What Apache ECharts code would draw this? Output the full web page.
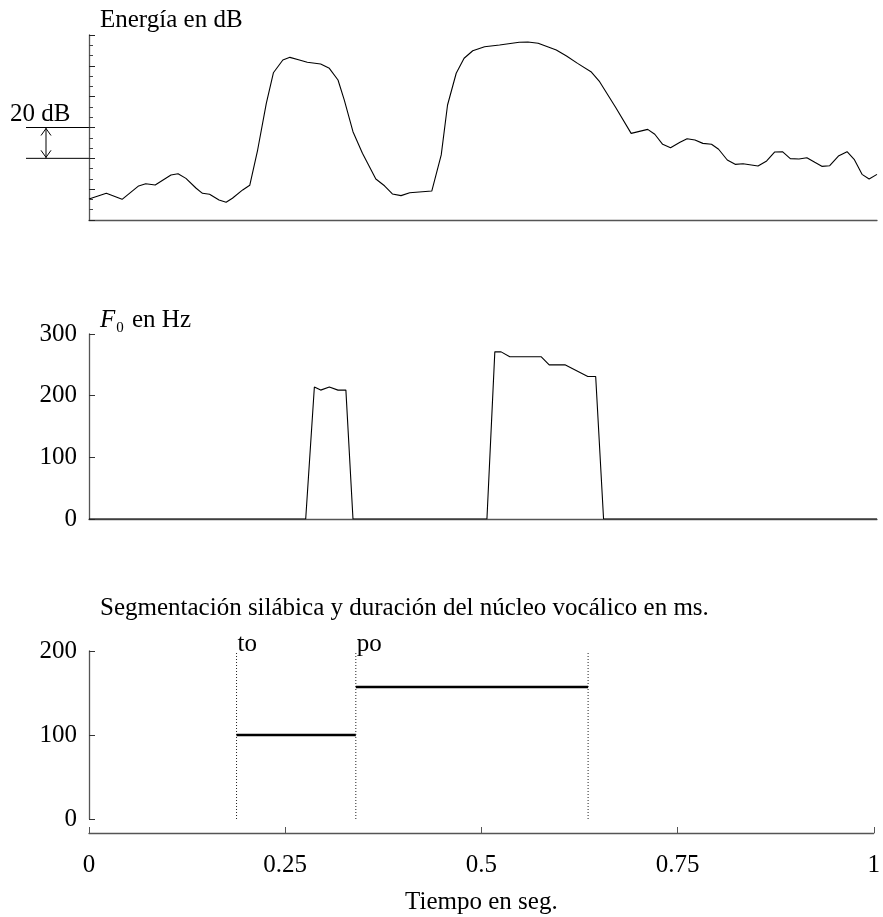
<!DOCTYPE html>
<html>
<head>
<meta charset="utf-8">
<script src="https://cdn.jsdelivr.net/npm/echarts@6/dist/echarts.min.js"></script>
<style>
  html, body { margin: 0; padding: 0; background: #fff; }
  .chart { width: 883px; height: 917px; }
</style>
</head>
<body>
<div class="chart"></div>
<script>
// datos
var energyT = [0, 0.022, 0.042, 0.063, 0.072, 0.084, 0.104, 0.113, 0.123, 0.136, 0.144, 0.153, 0.165, 0.174, 0.182,
  0.195, 0.204, 0.214, 0.225, 0.234, 0.246, 0.255, 0.267, 0.277, 0.294, 0.305, 0.316, 0.324, 0.335, 0.347, 0.364,
  0.375, 0.385, 0.396, 0.407, 0.435, 0.447, 0.455, 0.466, 0.476, 0.487, 0.502, 0.521, 0.546, 0.557, 0.570, 0.593,
  0.606, 0.620, 0.637, 0.648, 0.669, 0.688, 0.709, 0.718, 0.728, 0.738, 0.750, 0.759, 0.769, 0.779, 0.790, 0.799,
  0.810, 0.820, 0.830, 0.849, 0.860, 0.870, 0.880, 0.890, 0.901, 0.911, 0.921, 0.930, 0.940, 0.951, 0.962, 0.971,
  0.981, 0.990, 1.0];
var energyDb = [13.6, 17.3, 13.4, 22.1, 23.5, 22.7, 29.2, 30.0, 27.0, 20.6, 17.3, 16.7, 13.0, 11.5, 14.1,
  19.5, 22.5, 45.4, 75.7, 95.5, 103.8, 105.5, 103.8, 102.3, 101.2, 98.4, 90.8, 77.8, 57.3, 43.3, 26.6,
  22.2, 16.9, 15.8, 17.7, 18.8, 42.2, 74.6, 95.2, 104.9, 109.8, 112.4, 113.5, 115.3, 115.5, 114.6, 110.3,
  106.4, 101.6, 96.2, 89.7, 72.5, 56.2, 58.8, 55.6, 49.1, 46.9, 50.4, 52.7, 51.9, 49.7, 49.1, 45.9,
  38.9, 36.1, 36.5, 35.0, 38.3, 44.1, 44.3, 39.8, 39.6, 40.4, 37.4, 34.8, 35.2, 41.5, 44.3, 39.4,
  29.6, 26.6, 29.6];

var f0T = [0, 0.275, 0.286, 0.294, 0.305, 0.316, 0.326, 0.335, 0.505, 0.515, 0.523, 0.534, 0.574, 0.584,
  0.604, 0.633, 0.643, 0.653, 1];
var f0Hz = [0, 0, 214, 209, 214, 209, 209, 0, 0, 271, 271, 263, 263, 250, 250, 231, 231, 0, 0];

var syllables = ['to', 'po'];
var boundaries = [0.188, 0.34, 0.636];   // limites silabicos en seg.
var durations = [100, 157];              // nucleo vocalico en ms

var FONT = 'Liberation Serif';
var AXIS = '#555';

var myChart = echarts.init(document.querySelector('.chart'));

function zip(a, b) {
  var out = [];
  for (var i = 0; i < a.length; i++) out.push([a[i], b[i]]);
  return out;
}

var baseX = {
  type: 'value', min: 0, max: 1,
  axisLine: { onZero: false, lineStyle: { color: AXIS, width: 1.3 } },
  axisTick: { show: false }, axisLabel: { show: false }, splitLine: { show: false }
};

var series = [
  {
    type: 'line', xAxisIndex: 0, yAxisIndex: 0, data: zip(energyT, energyDb),
    showSymbol: false, lineStyle: { color: '#000', width: 1.1 }, silent: true, animation: false
  },
  {
    type: 'line', xAxisIndex: 1, yAxisIndex: 1, data: zip(f0T, f0Hz),
    showSymbol: false, lineStyle: { color: '#000', width: 1.1 }, silent: true, animation: false
  }
];

// lineas punteadas de segmentacion
boundaries.forEach(function (b) {
  series.push({
    type: 'line', xAxisIndex: 2, yAxisIndex: 2, data: [[b, 0], [b, 200]],
    showSymbol: false, lineStyle: { color: '#222', width: 1, type: [1, 2] }, silent: true, animation: false
  });
});

// duracion del nucleo vocalico
syllables.forEach(function (s, i) {
  series.push({
    type: 'line', xAxisIndex: 2, yAxisIndex: 2,
    data: [[boundaries[i], durations[i]], [boundaries[i + 1], durations[i]]],
    showSymbol: false, lineStyle: { color: '#000', width: 2.5 }, silent: true, animation: false
  });
});

// etiquetas de silaba
series.push({
  type: 'scatter', xAxisIndex: 2, yAxisIndex: 2, symbolSize: 0,
  itemStyle: { opacity: 1, color: '#000' },
  data: syllables.map(function (s, i) { return { value: [boundaries[i], 200], name: s }; }),
  label: {
    show: true, formatter: '{b}', position: [1, -7], align: 'left', verticalAlign: 'middle',
    fontFamily: FONT, fontSize: 25, color: '#000', opacity: 1
  },
  silent: true, animation: false
});

var option = {
  animation: false,
  grid: [
    { left: 89, right: 6, top: 35, bottom: 697 },
    { left: 89, right: 6, top: 334, bottom: 398 },
    { left: 89, right: 6, top: 651, bottom: 98 }
  ],
  xAxis: [
    Object.assign({}, baseX, { gridIndex: 0 }),
    Object.assign({}, baseX, { gridIndex: 1 }),
    {
      gridIndex: 2, type: 'value', min: 0, max: 1, interval: 0.25, offset: 14,
      axisLine: { onZero: false, lineStyle: { color: AXIS, width: 1.3 } },
      axisTick: { inside: true, length: 6, lineStyle: { color: AXIS } },
      axisLabel: { fontFamily: FONT, fontSize: 25, color: '#000', margin: 20 },
      splitLine: { show: false },
      name: 'Tiempo en seg.', nameLocation: 'middle', nameGap: 57,
      nameTextStyle: { fontFamily: FONT, fontSize: 25, color: '#000' }
    }
  ],
  yAxis: [
    {
      gridIndex: 0, type: 'value', min: 0, max: 120, interval: 20,
      axisLine: { show: true, lineStyle: { color: AXIS, width: 1.3 } },
      axisTick: { inside: true, length: 6, lineStyle: { color: '#222' } },
      minorTick: { show: true, splitNumber: 3, length: 4, lineStyle: { color: '#444' } },
      axisLabel: { show: false }, splitLine: { show: false }, minorSplitLine: { show: false }
    },
    {
      gridIndex: 1, type: 'value', min: 0, max: 300, interval: 100,
      axisLine: { show: true, lineStyle: { color: AXIS, width: 1.3 } },
      axisTick: { inside: true, length: 6, lineStyle: { color: '#333' } },
      axisLabel: { fontFamily: FONT, fontSize: 25, color: '#000', margin: 12 },
      splitLine: { show: false }
    },
    {
      gridIndex: 2, type: 'value', min: 0, max: 200, interval: 100,
      axisLine: { show: true, lineStyle: { color: AXIS, width: 1.3 } },
      axisTick: { inside: true, length: 6, lineStyle: { color: '#333' } },
      axisLabel: { fontFamily: FONT, fontSize: 25, color: '#000', margin: 12 },
      splitLine: { show: false }
    }
  ],
  series: series
};

myChart.setOption(option);

// titulos y marca de 20 dB
var y60 = myChart.convertToPixel({ xAxisIndex: 0, yAxisIndex: 0 }, [0, 60])[1];
var y40 = myChart.convertToPixel({ xAxisIndex: 0, yAxisIndex: 0 }, [0, 40])[1];
var ax = 46;

function txt(text, x, y, extra) {
  var style = Object.assign({
    text: text, x: x, y: y, font: '25px "' + FONT + '"', fill: '#000',
    verticalAlign: 'middle', align: 'left'
  }, extra || {});
  return { type: 'text', silent: true, style: style };
}

myChart.setOption({
  graphic: [
    txt('Energía en dB', 100, 20),
    txt('{i|F}{s|0} en Hz', 100, 320, {
      rich: {
        i: { fontFamily: FONT, fontSize: 25, fontStyle: 'italic' },
        s: { fontFamily: FONT, fontSize: 15, padding: [16, 2, 0, 1] }
      }
    }),
    txt('Segmentación silábica y duración del núcleo vocálico en ms.', 100, 608),
    txt('20 dB', 10, y60 - 13),
    { type: 'line', silent: true, shape: { x1: 26, y1: y60, x2: 89, y2: y60 }, style: { stroke: '#000', lineWidth: 1 } },
    { type: 'line', silent: true, shape: { x1: 26, y1: y40, x2: 89, y2: y40 }, style: { stroke: '#000', lineWidth: 1 } },
    { type: 'line', silent: true, shape: { x1: ax, y1: y60, x2: ax, y2: y40 }, style: { stroke: '#000', lineWidth: 1 } },
    { type: 'polyline', silent: true, shape: { points: [[ax - 5, y60 + 8], [ax, y60 + 1], [ax + 5, y60 + 8]] }, style: { stroke: '#000', fill: null, lineWidth: 1 } },
    { type: 'polyline', silent: true, shape: { points: [[ax - 5, y40 - 8], [ax, y40 - 1], [ax + 5, y40 - 8]] }, style: { stroke: '#000', fill: null, lineWidth: 1 } }
  ]
});
</script>
</body>
</html>
